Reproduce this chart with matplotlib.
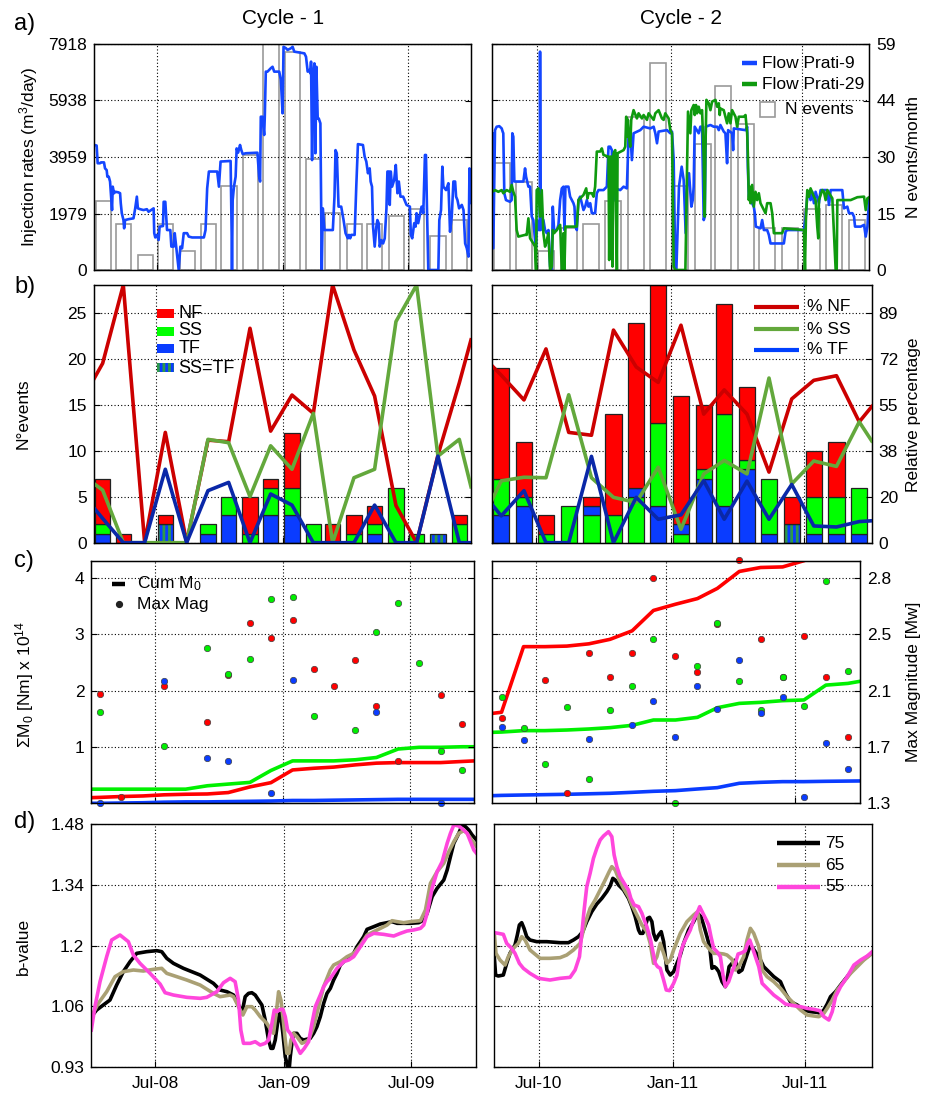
import numpy as np
import matplotlib
matplotlib.use("Agg")
import matplotlib.pyplot as plt
import matplotlib.dates as mdates
from matplotlib.patches import Rectangle

plt.rcParams['font.family'] = ['Liberation Sans', 'DejaVu Sans']
plt.rcParams['mathtext.fontset'] = 'custom'
plt.rcParams['mathtext.rm'] = 'Liberation Sans'
plt.rcParams['mathtext.it'] = 'Liberation Sans:italic'
plt.rcParams['mathtext.bf'] = 'Liberation Sans:bold'
plt.rcParams['hatch.linewidth'] = 2.0

# ====================== DATA ======================
C1_START, C1_END = "2008-04-01", "2009-10-01"
C2_START, C2_END = "2010-05-01", "2011-10-01"
C1_TICKS = ["2008-07-01", "2009-01-01", "2009-07-01"]
C2_TICKS = ["2010-07-01", "2011-01-01", "2011-07-01"]
C1_TICKLABELS = ["Jul-08", "Jan-09", "Jul-09"]
C2_TICKLABELS = ["Jul-10", "Jan-11", "Jul-11"]

# (a) injection rates: (days since cycle start, m3/day)
flow9_c1 = [(0,4380),(3.4,4360),(4.9,3740),(8.3,3740),(9.7,3770),(14.1,3770),(15.6,3560),(18,3500),(19,3270),(21,3270),
 (22.9,3100),(24.4,2570),(25.8,2100),(26.8,2920),(28.8,2690),(30.7,2740),(35.1,2720),(37.5,2690),(38.5,2340),(40,1990),
 (42.4,1750),(43.4,1460),(44.8,1750),(49.7,1780),(57,1810),(59.5,2160),(61.9,2570),(63.4,2160),(66.8,2130),(71.6,2100),
 (76.5,2130),(78.9,2040),(86.3,2160),(87.2,1290),(88.7,1140),(91.1,1230),(93.6,1050),(95,1520),(99.9,1540),(100.9,2390),
 (103.3,2390),(105.8,1400),(110.6,1400),(112.1,820),(115.5,820),(117,1290),(119.4,760),(122.8,0),(125.2,820),(127.7,760),
 (130.1,1290),(135,1290),(137.4,1170),(142.3,1140),(159.4,1140),(161.8,1400),(164.2,2860),(166.7,3450),(178.8,3450),(181.3,2920),
 (183.7,3800),(198.3,3820),(199.8,1290),(200.3,0),(201.3,2450),(203.2,2920),(205.6,3270),(207.1,4260),(209.1,4110),(212,4380),
 (213.9,4200),(215.9,4060),(220.3,4090),(237.3,4110),(239.8,3270),(241.2,3100),(242.2,5370),(244.6,5370),(247.1,4730),(248,5370),
 (249.5,6950),(252,6950),(256.8,7070),(259.3,7120),(261.7,6950),(269,6950),(271.4,6660),(273.9,5490),(275.3,7820),(278.8,7770),
 (281.2,7710),(286.1,7770),(288.5,7820),(290.9,7650),(300.7,7610),(305.6,7590),(308,7470),(310.4,6950),(312.9,7010),(314.3,6890),
 (315.3,7300),(316.8,3850),(318.2,6890),(320.2,7240),(321.6,4090),(323.1,7120),(325,5310),(326.5,5310),(328.9,5140),(330.9,0),
 (332.4,2160),(334.8,1400),(347,1400),(349.4,2570),(350.9,4200),(352.8,4090),(355.3,2220),(359.2,2220),(362.6,1750),(365.5,1290),
 (368.9,1110),(370.4,1230),(372.3,1110),(373.8,1230),(378.7,1230),(381.1,2920),(383.5,4410),(390.8,4380),(393.3,3970),(395.7,3800),
 (398.1,3390),(400.6,3560),(402,3100),(404,2920),(405.5,1520),(407.9,820),(410.3,1520),(411.8,1750),(413.7,1640),(415.2,820),
 (417.6,1050),(420.1,930),(422.5,1110),(425,2160),(426.4,3450),(428.9,3450),(429.8,2280),(431.3,3450),(433.2,2920),(436.2,3150),
 (438.6,3680),(441,2690),(443,3100),(445.4,2570),(449.3,2570),(454.2,2280),(459.1,2220),(460.5,1230),(462.5,1110),(465.4,1640),
 (467.4,1520),(468.8,1990),(471.2,1640),(476.1,2220),(478.6,1990),(481,4030),(482.5,4030),(483.9,2220),(485.9,0),(500.5,0),
 (501.9,1750),(504.4,2100),(506.3,3620),(507.8,2920),(511.7,2800),(515.1,3040),(517.5,1340),(520,1870),(522.4,3100),(524.9,3100),
 (526.3,2570),(528.3,2450),(530.7,2160),(534.6,2280),(537.1,2100),(539.5,930),(541.9,760),(544.3,470),(545.8,3560),(547.2,2450),(549,2340)]

flow9_c2 = [(0,4790),(1.4,760),(3.7,4900),(6,5020),(9.6,5040),(12.9,4960),(14.2,4850),(15.1,4790),(16.5,2690),(18.8,2450),
 (24.3,2390),(26.6,2450),(27.5,4790),(28.9,4670),(30.3,3100),(42.7,3100),(45,3560),(46.4,3270),(49.6,2920),(51.9,2920),
 (54.2,1870),(56.4,1750),(58.7,1050),(60.1,820),(61.5,1750),(63.8,1400),(65.2,1400),(65.6,7650),(66.5,1400),(70.2,1750),
 (72.5,1400),(74.8,1290),(77.1,1400),(79.4,120),(81.7,0),(83.1,2220),(84.9,1400),(88.6,1400),(90.9,1580),(93.2,2450),
 (95.5,2860),(97.8,2920),(99.1,1400),(100.5,2920),(104.6,2920),(106.9,2570),(111.5,2340),(112.9,2220),(114.3,1520),(116.1,1400),
 (118.4,2450),(120.7,2570),(123,2340),(125.3,2100),(127.6,2220),(129.9,2450),(132.2,2220),(134.5,2340),(136.8,1990),(141.3,1990),
 (143.6,2690),(145.9,2800),(152.8,2800),(157.4,2920),(159.7,4320),(162,4320),(164.3,4200),(165.2,2450),(166.6,2450),(168.9,2860),
 (175.8,2800),(180.4,2920),(184.9,2860),(187.2,4670),(189.5,4900),(191.8,3850),(194.1,4790),(203.3,4900),(207.9,5020),(217.1,4960),
 (221.7,5020),(224,4790),(226.3,4440),(228.5,4850),(240,4900),(244.6,4790),(246.9,4850),(249.2,3850),(251.5,0),(252.9,0),
 (256.5,2920),(260.2,3620),(263,3150),(265.7,1290),(267.6,2920),(270.3,3390),(273.5,2220),(275.4,2450),(276.7,2920),(278.1,5020),
 (283.6,4790),(285.9,5020),(288.2,5020),(290.5,1750),(291.9,1870),(293.3,5020),(299.7,5080),(304.3,5020),(308.9,5020),(311.2,4900),
 (313.4,5080),(318,4850),(320.3,4790),(322.6,3740),(324,4900),(329.5,4790),(330.9,4200),(331.8,4960),(347.9,4900),(350.2,5020),
 (351.1,3620),(352.5,2570),(354.7,2450),(359.3,2220),(360.7,1990),(362.1,1520),(368.5,1460),(370.8,1750),(373.1,1400),(377.7,1400),
 (380,1230),(382.3,930),(400.6,930),(402.9,1340),(405.2,1400),(428.2,1400),(430.5,1870),(432.8,2570),(435.1,2690),(437.3,2450),
 (439.6,2740),(441.9,2340),(444.2,2740),(448.8,2340),(451.1,2800),(460.3,2800),(462.6,2280),(464.9,2800),(480.9,2800),(483.2,2160),
 (487.8,2220),(490.1,1990),(494.7,1990),(497,1870),(498.4,1520),(506.2,1520),(510.8,1580),(513.1,1170),(515.4,1520),(517.7,2450),(519,2340)]

flow29_c2 = [(0,2740),(3.7,2800),(8.3,2740),(12.9,2800),(15.1,2690),(19.7,2800),(24.3,2740),(26.6,2980),(28.9,2740),(31.2,2570),
 (33.5,1400),(35.8,1170),(45,1230),(47.3,1230),(49.6,1810),(51.9,1110),(56.4,930),(58.7,820),(60.1,0),(61,2800),
 (63.3,2860),(65.6,1870),(67.9,2800),(70.2,1290),(72.5,820),(73.9,930),(77.1,1290),(79.4,0),(81.7,120),(83.1,1400),
 (84.9,1290),(88.6,1400),(93.2,1580),(95.5,0),(97.8,1290),(99.1,0),(100.5,1520),(116.1,1520),(118.4,2450),(125.3,2630),
 (129,2860),(130.8,2510),(132.2,2690),(136.8,2690),(139.1,2570),(141.3,2920),(143.6,4150),(148.2,4150),(150.5,4260),(152.8,4030),
 (159.7,3970),(160.6,350),(162,3970),(164.3,3970),(165.2,120),(166.6,4090),(168.9,4200),(171.2,0),(172.1,4090),(180.4,4200),
 (182.7,4320),(184,5370),(184.9,4670),(186.3,5260),(187.2,4790),(189.5,4320),(190.9,5260),(194.1,5600),(198.7,5310),(201,5490),
 (205.6,5310),(207.9,5430),(212.5,5260),(214.8,5490),(221.7,5260),(224,5490),(228.5,5600),(233.1,5310),(235.4,5260),(237.7,5490),
 (242.3,5310),(244.6,4900),(246.9,4790),(249.2,120),(251.5,0),(265.3,0),(267.6,3620),(268.9,5550),(272.1,4790),(273.5,5600),
 (276.7,5780),(278.1,5430),(279.9,5780),(281.3,5490),(283.6,5720),(285.9,5490),(288.2,5600),(290.5,3970),(291.9,1870),(292.8,4200),
 (294.2,5960),(297.4,5840),(299.7,5600),(302,5900),(306.6,5960),(308.9,5720),(311.2,5840),(312.5,5430),(313.4,5660),(318,5600),
 (322.6,5140),(324.9,5490),(327.2,5140),(329.5,5600),(334.1,5370),(336.4,5020),(338.7,5370),(345.6,5370),(347.9,5430),(350.2,4790),
 (351.1,4090),(352.5,2450),(353.8,2920),(354.7,2340),(357,2980),(359.3,2220),(361.6,2740),(363.9,2450),(366.2,2690),(368.5,2340),
 (375.4,1990),(377.7,2340),(382.3,2340),(384.6,1990),(386.9,1290),(398.3,1290),(400.6,1460),(428.2,1400),(429.6,0),(430.9,1750),
 (432.8,2800),(435.1,2570),(437.3,2860),(441.9,2570),(444.2,2450),(446.5,1520),(447.9,1110),(448.8,2450),(453.4,2800),(455.7,2740),
 (458,2450),(460.3,2800),(467.2,2510),(469.5,1290),(471.8,0),(473.2,0),(474.1,2450),(483.2,2450),(492.4,2450),(501.6,2550),
 (510.8,2570),(513.1,2100),(515.4,2510),(519,2570)]

# (a) monthly number of events
nevents_c1 = [18, 12, 4, 12, 5, 12, 22, 30, 60, 57, 29, 15, 12, 12, 14, 16, 9, 13]
nevents_c2 = [28, 23, 5, 11, 12, 18, 40, 54, 22, 33, 48, 38, 11, 11, 16, 17, 13]

# (b) focal mechanisms per month
nf_c1 = [5, 1, 0, 1, 0, 0, 0, 4, 1, 6, 0, 2, 2, 2, 0, 0, 0, 1]
ss_c1 = [1, 0, 0, 0, 0, 1, 2, 1, 3, 3, 2, 0, 1, 1, 6, 1, 0, 2]
tf_c1 = [1, 0, 0, 0, 0, 1, 3, 0, 3, 3, 0, 0, 0, 1, 0, 0, 0, 0]
sstf_c1 = [0, 0, 0, 2, 0, 0, 0, 0, 0, 0, 0, 0, 0, 0, 0, 0, 1, 0]
nf_c2 = [12, 6, 2, 0, 1, 11, 18, 16, 14, 7, 12, 8, 0, 3, 5, 6, 0]
ss_c2 = [4, 1, 1, 4, 3, 3, 5, 9, 1, 1, 10, 1, 6, 0, 4, 4, 5]
tf_c2 = [3, 4, 0, 0, 1, 0, 1, 4, 1, 7, 4, 8, 1, 0, 1, 1, 1]
sstf_c2 = [0, 0, 0, 0, 0, 0, 0, 0, 0, 0, 0, 0, 0, 2, 0, 0, 0]
ss_below_tf_c2 = [4, 6, 8]          # months where SS is stacked under TF

# (b) relative percentages: [cycle start, monthly values..., cycle end]
pct_nf_c1 = [63.4, 69.6, 100, 0, 42.8, 0, 39.8, 39.2, 83.2, 43.3, 57.3, 50.2, 100, 74.8, 56.9, 14.4, 0, 34, 62, 78.7]
pct_ss_c1 = [23.0, 20.4, 0, 0, 0, 0, 40.1, 38.8, 17.9, 37.6, 28.5, 50.2, 0, 25.2, 28.5, 85.8, 100, 33.6, 40.1, 21.7]
pct_tf_c1 = [13.6, 9.4, 0, 0, 28.5, 0, 20.2, 23.4, 0, 18.9, 14.6, 0, 0, 0, 14.6, 0, 0, 33.6, 0, 0]
pct_nf_c2 = [68.8, 65, 55.4, 75.2, 42.8, 41.7, 82.5, 68.2, 62.2, 84.4, 49.9, 59.3, 49.9, 27.4, 55.8, 63.0, 64.8, 46.9, 52.8]
pct_ss_c2 = [16.3, 24, 25.4, 25.2, 57.4, 25.2, 17.6, 15.6, 29.3, 5.2, 26.7, 31.9, 26.7, 63.9, 22.8, 31.7, 29.6, 46.9, 39.5]
pct_tf_c2 = [15.0, 10.4, 20.2, 0, 0, 33.5, 0, 17.6, 9.1, 10.8, 24.1, 9.1, 23.9, 9.1, 22.6, 6.5, 6.1, 8.2, 8.5]

# (c) cumulative seismic moment (x 1e14 Nm): [cycle start, monthly..., cycle end]
cum_nf_c1 = [0.11, 0.115, 0.13, 0.14, 0.16, 0.17, 0.175, 0.2, 0.3, 0.375, 0.6, 0.63, 0.65, 0.69, 0.72, 0.73, 0.73, 0.73, 0.75, 0.76]
cum_ss_c1 = [0.26, 0.26, 0.26, 0.26, 0.26, 0.26, 0.32, 0.35, 0.38, 0.59, 0.76, 0.76, 0.76, 0.78, 0.82, 0.97, 1.0, 1.0, 1.01, 1.01]
cum_tf_c1 = [0.01, 0.01, 0.015, 0.02, 0.03, 0.035, 0.035, 0.04, 0.045, 0.05, 0.06, 0.06, 0.065, 0.07, 0.075, 0.08, 0.08, 0.08, 0.08, 0.08]
cum_nf_c2 = [1.6, 1.62, 2.78, 2.78, 2.79, 2.83, 2.91, 3.06, 3.42, 3.53, 3.63, 3.81, 4.11, 4.18, 4.19, 4.3, 4.45, 4.5, 4.5]
cum_ss_c2 = [1.265, 1.27, 1.295, 1.295, 1.306, 1.324, 1.348, 1.389, 1.483, 1.483, 1.53, 1.70, 1.777, 1.795, 1.825, 1.837, 2.10, 2.13, 2.167]
cum_tf_c2 = [0.145, 0.15, 0.157, 0.163, 0.169, 0.178, 0.187, 0.204, 0.222, 0.234, 0.263, 0.287, 0.364, 0.381, 0.393, 0.393, 0.399, 0.403, 0.405]

# (c) monthly max magnitude (Mw)
nan = np.nan
maxmag_nf_c1 = [2.03, 1.34, nan, 2.08, nan, 1.84, 2.15, 2.50, 2.40, 2.52, 2.19, 2.08, 2.25, 1.95, 1.58, nan, 2.02, 1.83]
maxmag_ss_c1 = [1.91, nan, nan, 1.68, nan, 2.33, 2.16, 2.26, 2.66, 2.67, 1.88, nan, 1.79, 2.44, 2.63, 2.23, 1.65, 1.52]
maxmag_tf_c1 = [1.30, nan, nan, 2.11, nan, 1.60, 1.58, nan, 1.37, 2.12, nan, nan, nan, 1.91, nan, nan, 1.30, nan]
maxmag_nf_c2 = [1.87, nan, 2.12, 1.37, 2.30, 2.14, 2.30, 2.80, 2.28, 2.17, 2.49, 2.92, 2.39, 2.14, 2.41, 2.14, 1.74]
maxmag_ss_c2 = [2.01, 1.80, 1.56, 1.94, 1.46, 1.92, 2.08, 2.39, 1.30, 2.21, 2.50, 2.11, 1.92, 2.14, 1.95, 2.78, 2.18]
maxmag_tf_c2 = [1.81, 1.72, nan, nan, 1.73, nan, 1.82, 1.98, 1.74, 2.08, 1.93, 2.25, 1.90, 2.01, 1.34, 1.70, 1.53]

# (d) b-value: (days since cycle start, b)
bval75_c1 = [(0,1.0435),(7.6,1.0586),(17.1,1.07),(26.6,1.0813),(36.1,1.1153),(45.6,1.1456),(55.2,1.1683),(64.7,1.1872),(78.9,1.191),
 (93.2,1.1933),(100.3,1.191),(107.5,1.1759),(117,1.1645),(131.2,1.1532),(155,1.138),(174,1.1191),(183.5,1.104),(193.1,1.1002),
 (202.6,1.0926),(209.7,1.07),(214.5,1.051),(219.2,1.0889),(224,1.0964),(228.7,1.0979),(233.5,1.0926),(238.2,1.0813),(243,1.07),
 (247.7,1.0359),(252.5,0.9905),(255.8,0.9716),(258.7,0.9716),(262,0.9905),(265.3,1.0283),(268.2,1.051),(270.1,1.0435),(272.9,1.0057),
 (276.3,0.9527),(278.6,0.9376),(281,0.907),(283.4,0.9527),(286.3,0.9905),(288.2,1.0057),(292.9,1.0057),(297.7,0.9943),(302.4,0.9905),
 (311.9,0.9943),(316.7,1.0057),(321.4,1.0208),(326.2,1.0435),(331,1.0737),(335.7,1.0964),(340.5,1.1078),(345.2,1.1267),(350,1.1418),
 (354.7,1.1607),(359.5,1.1683),(364.2,1.1759),(369,1.1796),(373.8,1.1872),(378.5,1.2023),(383.3,1.2137),(388,1.225),(392.8,1.2417),
 (402.3,1.2477),(411.8,1.2538),(421.3,1.2568),(428.4,1.2591),(435.6,1.2553),(454.6,1.2553),(466.5,1.2568),(473.6,1.2629),(478.4,1.278),
 (485.5,1.3158),(492.6,1.3347),(502.1,1.3536),(506.9,1.3763),(511.6,1.4066),(516.4,1.4369),(523.5,1.4596),(528.3,1.4785),(533,1.4747),
 (537.7,1.4671),(542.5,1.4558),(548.7,1.4444)]
bval65_c1 = [(0,1.0435),(10,1.0737),(21.9,1.1002),(33.8,1.1343),(45.6,1.1456),(59.9,1.1494),(74.2,1.1471),(88.4,1.1509),(100.3,1.1532),
 (107.5,1.1418),(121.7,1.1343),(136,1.1267),(155,1.1153),(174,1.0964),(183.5,1.0889),(197.8,1.0926),(202.6,1.0889),(209.7,1.0662),
 (215.9,1.0473),(221.6,1.0662),(228.7,1.0662),(233.5,1.0586),(240.6,1.0435),(250.1,1.0283),(255.8,1.0132),(259.6,1.0057),(263.4,1.051),
 (266.8,1.1002),(270.1,1.0813),(272.9,1.0435),(276.3,0.9905),(278.6,0.9603),(281.5,0.9603),(284.4,0.9905),(288.2,1.0057),(292.9,0.9981),
 (300,0.983),(304.8,0.9867),(309.6,0.9905),(316.7,1.0208),(323.8,1.0662),(331,1.1116),(335.7,1.1305),(340.5,1.1494),(345.2,1.1607),
 (350,1.1645),(354.7,1.1683),(364.2,1.1796),(373.8,1.1872),(383.3,1.2061),(392.8,1.2288),(402.3,1.2364),(411.8,1.2439),(421.3,1.2515),
 (428.4,1.2613),(435.6,1.2591),(445.1,1.2568),(454.6,1.2591),(468.9,1.2613),(476,1.2856),(483.1,1.3461),(492.6,1.3725),(502.1,1.3915),
 (509.3,1.4179),(516.4,1.4406),(523.5,1.4596),(530.6,1.4656),(535.4,1.4596),(540.2,1.4482),(548.7,1.4293)]
bval55_c1 = [(0,1.0132),(5.2,1.0662),(12.4,1.1229),(21.9,1.1796),(29,1.2175),(40.9,1.2288),(52.8,1.2137),(59.9,1.1834),(69.4,1.1645),
 (83.7,1.1418),(98,1.1176),(105.1,1.0979),(117,1.0926),(136,1.0874),(155,1.0851),(164.5,1.0874),(178.8,1.1002),(188.3,1.1206),
 (197.8,1.1305),(204.9,1.1229),(209.7,1.0813),(213,1.0132),(216.8,0.983),(226.3,0.983),(233.5,0.9867),(240.6,0.9792),(247.7,0.983),
 (252.5,0.9905),(257.3,1.0283),(260.6,1.0586),(264.4,1.0548),(269.1,1.0601),(272.9,1.0601),(276.3,1.0435),(279.6,1.0132),(283.4,1.0057),
 (288.2,0.9905),(292.9,0.9754),(297.7,0.9603),(303.4,0.9716),(309.6,0.9867),(314.3,1.0283),(319.1,1.0662),(326.2,1.0926),(331,1.1116),
 (335.7,1.1229),(340.5,1.1305),(350,1.1532),(359.5,1.1683),(366.6,1.1721),(373.8,1.1796),(383.3,1.2023),(392.8,1.225),(402.3,1.2326),
 (416.5,1.2303),(430.8,1.2265),(440.3,1.2326),(449.8,1.2379),(459.3,1.2402),(468.9,1.2439),(473.6,1.2515),(478.4,1.278),(485.5,1.3347),
 (492.6,1.3725),(499.8,1.3952),(506.9,1.4369),(511.6,1.4596),(516.4,1.4785),(523.5,1.4762),(530.6,1.4671),(535.4,1.4596),(540.2,1.4406),
 (544.9,1.4217),(548.7,1.4142)]
bval75_c2 = [(0,1.1796),(1.8,1.138),(5.5,1.1358),(12.4,1.138),(17,1.1645),(21.5,1.1872),(28.4,1.2061),(31.6,1.2288),(34.4,1.2515),
 (37.6,1.2568),(40.8,1.2439),(44.5,1.225),(49,1.2175),(58.2,1.2137),(72,1.2137),(90.3,1.2114),(101.7,1.2114),(108.6,1.2175),
 (115.5,1.225),(121.4,1.2364),(126.9,1.2591),(133.8,1.2818),(140.7,1.2992),(147.6,1.312),(154.4,1.3272),(159,1.34),(162.7,1.3574),
 (165.9,1.3536),(170.5,1.3423),(177.4,1.3309),(184.2,1.312),(188.8,1.2931),(193.4,1.2704),(198,1.2402),(200.3,1.2326),(203.9,1.2326),
 (207.1,1.2477),(210.4,1.2666),(213.1,1.2689),(216.3,1.2591),(218.6,1.2326),(221.8,1.2175),(225.5,1.2288),(229.1,1.2364),(232.4,1.2137),
 (236.9,1.1494),(241.5,1.138),(246.1,1.1456),(250.7,1.1645),(255.3,1.1834),(259.9,1.2099),(266.7,1.2402),(273.6,1.2591),(279.1,1.278),
 (283.7,1.2704),(287.3,1.2515),(291.9,1.225),(295.6,1.2023),(298.8,1.1532),(302,1.1569),(304.8,1.1532),(308,1.1456),(312.6,1.1229),
 (317.1,1.1116),(319.4,1.1267),(322.2,1.1569),(326.3,1.1645),(330.9,1.1721),(335.5,1.1441),(340,1.1494),(346,1.1796),(350.6,1.2023),
 (355.2,1.1986),(359.8,1.1872),(365.3,1.1721),(369.8,1.1569),(376.7,1.1456),(383.6,1.1343),(392.8,1.1229),(399.6,1.0964),(406.5,1.0775),
 (415.7,1.07),(424.8,1.0586),(434,1.0548),(443.2,1.0533),(447.8,1.051),(452.3,1.0586),(456.9,1.0722),(461.5,1.0889),(468.4,1.1002),
 (475.3,1.1153),(484.4,1.1343),(493.6,1.1532),(502.8,1.1683),(511.9,1.1796),(518.8,1.1887)]
bval65_c2 = [(0,1.2326),(2.3,1.1872),(7.8,1.1721),(14.7,1.1607),(19.2,1.1796),(26.1,1.1986),(33,1.2099),(37.6,1.225),(42.2,1.2175),
 (49,1.1948),(62.8,1.1759),(76.5,1.1759),(90.3,1.1774),(99.4,1.1834),(108.6,1.1948),(117.8,1.2099),(124.7,1.2553),(131.5,1.2893),
 (138.4,1.3083),(145.3,1.3309),(152.2,1.3536),(157.7,1.3726),(161.3,1.3839),(165.9,1.3763),(170.5,1.3574),(177.4,1.3347),(184.2,1.3158),
 (188.8,1.2969),(195.7,1.2742),(202.6,1.2515),(209.4,1.2364),(214,1.2099),(218.6,1.1645),(223.2,1.1796),(227.8,1.2099),(232.4,1.1872),
 (236.9,1.1645),(241.5,1.1721),(246.1,1.1948),(255.3,1.2326),(264.4,1.2591),(273.6,1.2742),(279.1,1.2818),(282.8,1.2402),(287.3,1.2137),
 (294.2,1.1986),(301.1,1.1872),(308,1.1872),(314.8,1.1857),(319.4,1.1834),(326.3,1.1736),(330.9,1.1494),(335.5,1.1569),(342.3,1.1796),
 (346.9,1.2175),(351.5,1.2439),(356.1,1.2326),(363,1.2023),(367.6,1.1494),(374.4,1.1343),(383.6,1.1229),(392.8,1.1078),(401.9,1.0889),
 (411.1,1.0737),(420.3,1.0586),(429.4,1.0473),(438.6,1.045),(445.5,1.0435),(452.3,1.051),(456.9,1.0624),(463.8,1.0813),(470.7,1.104),
 (479.8,1.1229),(489,1.1418),(498.2,1.1569),(507.3,1.1721),(518.8,1.1872)]
bval55_c2 = [(0,1.2341),(5.5,1.2326),(12.4,1.2303),(17,1.2099),(23.8,1.1986),(28.4,1.1872),(34.4,1.1645),(39.9,1.1532),(49,1.1418),
 (60.5,1.1305),(76.5,1.1267),(90.3,1.1305),(104,1.1327),(110.9,1.1494),(116.9,1.1796),(120.1,1.2326),(123.3,1.2856),(126.9,1.3385),
 (131.5,1.3688),(136.1,1.4028),(140.7,1.4255),(145.3,1.4444),(149.9,1.4535),(156.7,1.4633),(161.3,1.452),(164.5,1.4104),(168.2,1.3839),
 (172.8,1.3612),(179.7,1.3423),(184.2,1.3309),(187.4,1.312),(192,1.2969),(198,1.2931),(202.6,1.278),(205.8,1.2629),(209.4,1.2477),
 (214,1.2212),(217.7,1.191),(220.9,1.1645),(224.1,1.1569),(227.8,1.1532),(232.4,1.1267),(236,1.104),(240.6,1.1025),(246.1,1.1191),
 (250.7,1.138),(255.3,1.1872),(259.9,1.2099),(264.4,1.225),(269,1.2402),(273.6,1.2629),(279.1,1.2818),(281.9,1.2931),(286.4,1.278),
 (291,1.2629),(294.2,1.2515),(297.4,1.225),(301.1,1.1986),(305.7,1.191),(310.3,1.1796),(313.9,1.138),(317.1,1.1116),(321.7,1.1229),
 (326.3,1.1456),(330.9,1.1645),(334.6,1.1857),(340,1.1887),(344.6,1.1933),(347.8,1.2099),(350.6,1.2175),(353.8,1.2023),(358.4,1.1796),
 (363,1.1569),(367.6,1.1191),(374.4,1.1078),(383.6,1.0926),(392.8,1.0813),(399.6,1.0722),(411.1,1.0684),(420.3,1.0662),(429.4,1.0624),
 (438.6,1.0601),(446.8,1.0571),(452.3,1.0435),(459.2,1.0359),(463.8,1.0548),(468.4,1.0889),(475.3,1.1116),(484.4,1.1343),(493.6,1.1607),
 (502.8,1.1721),(511.9,1.1812),(518.8,1.191)]

# axis scales / tick labels
RATE_MAX, NEV_MAX = 7918, 59
RATE_TICKLABELS = ["0", "1979", "3959", "5938", "7918"]
NEVM_TICKLABELS = ["0", "15", "30", "44", "59"]
NB_MAX = 28.1
NB_TICKS = [0, 5, 10, 15, 20, 25]
PCT_TICKLABELS = ["0", "20", "38", "55", "72", "89"]
M0_LIM = (0.01, 4.30)
M0_TICKS = [1, 2, 3, 4]
MAG_LIM = (1.3, 2.913)
MAG_TICKLABELS = ["1.3", "1.7", "2.1", "2.5", "2.8"]
B_LIM = (0.93, 1.48)
B_TICKLABELS = ["0.93", "1.06", "1.2", "1.34", "1.48"]

# ====================== STYLE ======================
W, H = 929, 1097
FS = 12.5
C_NF, C_SS, C_TF = "#ff0000", "#00ff00", "#0a3cff"
C_NF_L, C_SS_L, C_TF_L = "#cc0000", "#63a83c", "#0a28a8"
C_F9, C_F29 = "#1446ff", "#0f9a0f"
C_75, C_65, C_55 = "#000000", "#aaa074", "#ff46dc"
BAR_W = 22

fig = plt.figure(figsize=(W / 100, H / 100), dpi=100)


def add_ax(x0, x1, y0, y1):
    return fig.add_axes([x0 / W, 1 - y1 / H, (x1 - x0) / W, (y1 - y0) / H])


def dn(s):
    return mdates.date2num(np.datetime64(s))


def month_mids(start, n):
    base = np.datetime64(start[:7], "M")
    return np.array([dn((base + i).astype("datetime64[D]")) + 13 for i in range(n)])


def series_xy(start, pairs):
    arr = np.array(pairs, dtype=float)
    return dn(start) + arr[:, 0], arr[:, 1]


def style_host(ax, start, end, ticks, ticklabels, show_x):
    ax.set_xlim(dn(start), dn(end))
    ax.set_xticks([dn(t) for t in ticks])
    ax.set_xticklabels(ticklabels if show_x else [])
    ax.grid(True, color="k", linestyle=(0, (1, 2)), linewidth=0.8)
    ax.tick_params(direction="in", length=4, labelsize=FS, pad=5)
    ax.tick_params(axis="x", pad=7)
    for s in ax.spines.values():
        s.set_linewidth(1.0)


def style_twin(ax2):
    ax2.tick_params(direction="in", length=4, labelsize=FS, pad=5)
    ax2.grid(False)


def leg_line(ax, x0, x1, y, color, lw, text, tx):
    ax.plot([x0, x1], [y, y], color=color, lw=lw, transform=ax.transAxes, clip_on=False,
            solid_capstyle="butt")
    ax.text(tx, y, text, transform=ax.transAxes, va="center", ha="left", fontsize=FS)


CYCLES = [
    dict(start=C1_START, end=C1_END, ticks=C1_TICKS, tl=C1_TICKLABELS, n=18),
    dict(start=C2_START, end=C2_END, ticks=C2_TICKS, tl=C2_TICKLABELS, n=17),
]

# ---------------- row a ----------------
pos_a = [(94.3, 471, 44, 270), (492.3, 869.3, 44, 270)]
for k, (cyc, pos) in enumerate(zip(CYCLES, pos_a)):
    ax = add_ax(*pos)
    ax2 = ax.twinx()
    ax.set_zorder(ax2.get_zorder() + 1)
    ax.patch.set_visible(False)
    style_host(ax, cyc["start"], cyc["end"], cyc["ticks"], cyc["tl"], False)
    style_twin(ax2)
    mids = month_mids(cyc["start"], cyc["n"])
    nev = nevents_c1 if k == 0 else nevents_c2
    ax2.bar(mids, nev, width=BAR_W, fill=False, edgecolor="#9a9a9a", linewidth=1.2)
    ax2.set_ylim(0, NEV_MAX)
    ax2.set_yticks(np.linspace(0, NEV_MAX, 5))
    ax2.set_yticklabels(NEVM_TICKLABELS)
    ax.set_ylim(0, RATE_MAX)
    ax.set_yticks(np.linspace(0, RATE_MAX, 5))
    ax.set_yticklabels(RATE_TICKLABELS)
    if k == 0:
        x, y = series_xy(cyc["start"], flow9_c1)
        ax.plot(x, y, color=C_F9, lw=1.9)
        ax2.tick_params(labelright=False)
    else:
        x, y = series_xy(cyc["start"], flow9_c2)
        ax.plot(x, y, color=C_F9, lw=1.9)
        x, y = series_xy(cyc["start"], flow29_c2)
        ax.plot(x, y, color=C_F29, lw=1.9)
        ax.tick_params(labelleft=False)
        leg_line(ax, 0.6615, 0.7013, 0.9146, C_F9, 3.2, "Flow Prati-9", 0.7145)
        leg_line(ax, 0.6615, 0.7013, 0.8217, C_F29, 3.2, "Flow Prati-29", 0.7145)
        ax.add_patch(Rectangle((0.7095, 0.677), 0.0398, 0.066, transform=ax.transAxes, fill=False,
                               edgecolor="#9a9a9a", lw=1.2, clip_on=False))
        ax.text(0.7764, 0.7102, "N events", transform=ax.transAxes, va="center", ha="left", fontsize=FS)

# ---------------- row b ----------------
pos_b = [(93.7, 471, 285, 542.7), (491.7, 871.7, 285, 542.7)]
bdata = [
    (nf_c1, ss_c1, tf_c1, sstf_c1, [], pct_nf_c1, pct_ss_c1, pct_tf_c1),
    (nf_c2, ss_c2, tf_c2, sstf_c2, ss_below_tf_c2, pct_nf_c2, pct_ss_c2, pct_tf_c2),
]
for k, (cyc, pos, bd) in enumerate(zip(CYCLES, pos_b, bdata)):
    nf, ss, tf, sstf, ssfirst, pnf, pss, ptf = bd
    ax = add_ax(*pos)
    style_host(ax, cyc["start"], cyc["end"], cyc["ticks"], cyc["tl"], False)
    ax.set_axisbelow(True)
    ax2 = ax.twinx()
    style_twin(ax2)
    mids = month_mids(cyc["start"], cyc["n"])
    for i, xm in enumerate(mids):
        bottom = 0
        if sstf[i]:
            ax.bar(xm, sstf[i], BAR_W, bottom=0, color=C_TF, hatch="|||", edgecolor="#2e9a4a", linewidth=0)
            ax.bar(xm, sstf[i], BAR_W, bottom=0, fill=False, edgecolor="#222222", linewidth=0.9)
            bottom += sstf[i]
        order = [(ss[i], C_SS), (tf[i], C_TF)] if i in ssfirst else [(tf[i], C_TF), (ss[i], C_SS)]
        for v, c in order + [(nf[i], C_NF)]:
            if v:
                ax.bar(xm, v, BAR_W, bottom=bottom, color=c, edgecolor="#222222", linewidth=0.9)
                bottom += v
    ax.set_ylim(0, NB_MAX)
    ax.set_yticks(NB_TICKS)
    xl = np.concatenate([[dn(cyc["start"])], mids, [dn(cyc["end"])]])
    ax2.plot(xl, pnf, color=C_NF_L, lw=2.6)
    ax2.plot(xl, pss, color=C_SS_L, lw=2.6)
    ax2.plot(xl, ptf, color=C_TF_L, lw=2.6)
    ax2.set_ylim(0, 100)
    ax2.set_yticks(np.array(NB_TICKS) / NB_MAX * 100)
    ax2.set_yticklabels(PCT_TICKLABELS)
    if k == 0:
        ax2.tick_params(labelright=False)
        items = [(C_NF, "NF", 0.8731, 0.8913), (C_SS, "SS", 0.8033, 0.8215),
                 (C_TF, "TF", 0.7350, 0.7517), (None, "SS=TF", 0.6612, 0.6779)]
        for col, lab, yb, yc in items:
            if col is None:
                ax2.add_patch(Rectangle((0.1686, yb), 0.0442, 0.0349, transform=ax2.transAxes,
                                        facecolor=C_TF, hatch="|||", edgecolor="#2e9a4a", lw=0, clip_on=False))
            else:
                ax2.add_patch(Rectangle((0.1686, yb), 0.0442, 0.0349, transform=ax2.transAxes,
                                        facecolor=col, edgecolor="none", clip_on=False))
            ax2.text(0.2242, yc, lab, transform=ax2.transAxes, va="center", ha="left", fontsize=FS + 0.5)
    else:
        ax.tick_params(labelleft=False)
        leg_line(ax2, 0.6903, 0.8095, 0.9158, C_NF_L, 3.0, "% NF", 0.8289)
        leg_line(ax2, 0.6903, 0.8095, 0.8281, C_SS_L, 3.0, "% SS", 0.8289)
        leg_line(ax2, 0.6903, 0.8095, 0.7478, "#0040ff", 3.0, "% TF", 0.8289)

# ---------------- row c ----------------
pos_c = [(91.3, 474.3, 560.7, 803.3), (492.3, 860, 560.7, 803.3)]
cdata = [
    (cum_nf_c1, cum_ss_c1, cum_tf_c1, maxmag_nf_c1, maxmag_ss_c1, maxmag_tf_c1),
    (cum_nf_c2, cum_ss_c2, cum_tf_c2, maxmag_nf_c2, maxmag_ss_c2, maxmag_tf_c2),
]
for k, (cyc, pos, cd) in enumerate(zip(CYCLES, pos_c, cdata)):
    cnf, css, ctf, mnf, mss, mtf = cd
    ax = add_ax(*pos)
    style_host(ax, cyc["start"], cyc["end"], cyc["ticks"], cyc["tl"], False)
    ax2 = ax.twinx()
    style_twin(ax2)
    mids = month_mids(cyc["start"], cyc["n"])
    xl = np.concatenate([[dn(cyc["start"])], mids, [dn(cyc["end"])]])
    ax.plot(xl, css, color="#00f000", lw=2.6)
    ax.plot(xl, cnf, color=C_NF, lw=2.6)
    ax.plot(xl, ctf, color=C_TF, lw=2.6)
    ax.set_ylim(*M0_LIM)
    ax.set_yticks(M0_TICKS)
    for vals, col in [(mnf, C_NF), (mss, "#00ee00"), (mtf, C_TF)]:
        ax2.plot(mids, vals, "o", color=col, ms=4.6, mec="#404040", mew=0.5, clip_on=False)
    ax2.set_ylim(*MAG_LIM)
    slope = (2.8 - 1.3) / (4 - M0_LIM[0])
    ax2.set_yticks(1.3 + (np.array([M0_LIM[0], 1, 2, 3, 4]) - M0_LIM[0]) * slope)
    ax2.set_yticklabels(MAG_TICKLABELS)
    if k == 0:
        ax2.tick_params(labelright=False)
        leg_line(ax2, 0.0533, 0.088, 0.904, "k", 3.2, "Cum M$_0$", 0.1185)
        ax2.plot([0.0731], [0.8215], "o", color="#222222", ms=4.2, transform=ax2.transAxes, clip_on=False)
        ax2.text(0.1185, 0.8215, "Max Mag", transform=ax2.transAxes, va="center", ha="left", fontsize=FS)
    else:
        ax.tick_params(labelleft=False)

# ---------------- row d ----------------
pos_d = [(91.3, 476, 824.3, 1066.7), (494.3, 871.7, 824.3, 1066.7)]
ddata = [(bval75_c1, bval65_c1, bval55_c1), (bval75_c2, bval65_c2, bval55_c2)]
for k, (cyc, pos, dd) in enumerate(zip(CYCLES, pos_d, ddata)):
    ax = add_ax(*pos)
    style_host(ax, cyc["start"], cyc["end"], cyc["ticks"], cyc["tl"], True)
    for pairs, col in zip(dd, [C_75, C_65, C_55]):
        x, y = series_xy(cyc["start"], pairs)
        ax.plot(x, y, color=col, lw=2.6)
    ax.set_ylim(*B_LIM)
    ax.set_yticks(np.linspace(B_LIM[0], B_LIM[1], 5))
    ax.set_yticklabels(B_TICKLABELS)
    if k == 1:
        ax.tick_params(labelleft=False)
        leg_line(ax, 0.7483, 0.863, 0.9216, C_75, 3.2, "75", 0.8763)
        leg_line(ax, 0.7483, 0.863, 0.832, C_65, 3.2, "65", 0.8763)
        leg_line(ax, 0.7483, 0.863, 0.7426, C_55, 3.2, "55", 0.8763)

# ---------------- texts ----------------
def ftext(px, py, s, **kw):
    fig.text(px / W, 1 - py / H, s, **kw)

ftext(283, 18, "Cycle - 1", ha="center", va="center", fontsize=15)
ftext(681, 18, "Cycle - 2", ha="center", va="center", fontsize=15)
for lab, py in [("a)", 24), ("b)", 287), ("c)", 561), ("d)", 822)]:
    ftext(14, py, lab, ha="left", va="center", fontsize=17)

ftext(29, 157, "Injection rates (m$^3$/day)", ha="center", va="center", rotation=90, fontsize=FS)
ftext(23, 414, "N°events", ha="center", va="center", rotation=90, fontsize=FS)
ftext(25, 684, "ΣM$_0$ [Nm] x 10$^{14}$", ha="center", va="center", rotation=90, fontsize=FS)
ftext(23, 946, "b-value", ha="center", va="center", rotation=90, fontsize=FS)
ftext(914, 157, "N events/month", ha="center", va="center", rotation=90, fontsize=FS)
ftext(914, 415, "Relative percentage", ha="center", va="center", rotation=90, fontsize=FS)
ftext(914, 682, "Max Magnitude [Mw]", ha="center", va="center", rotation=90, fontsize=FS)

fig.savefig("out.png", dpi=100)
